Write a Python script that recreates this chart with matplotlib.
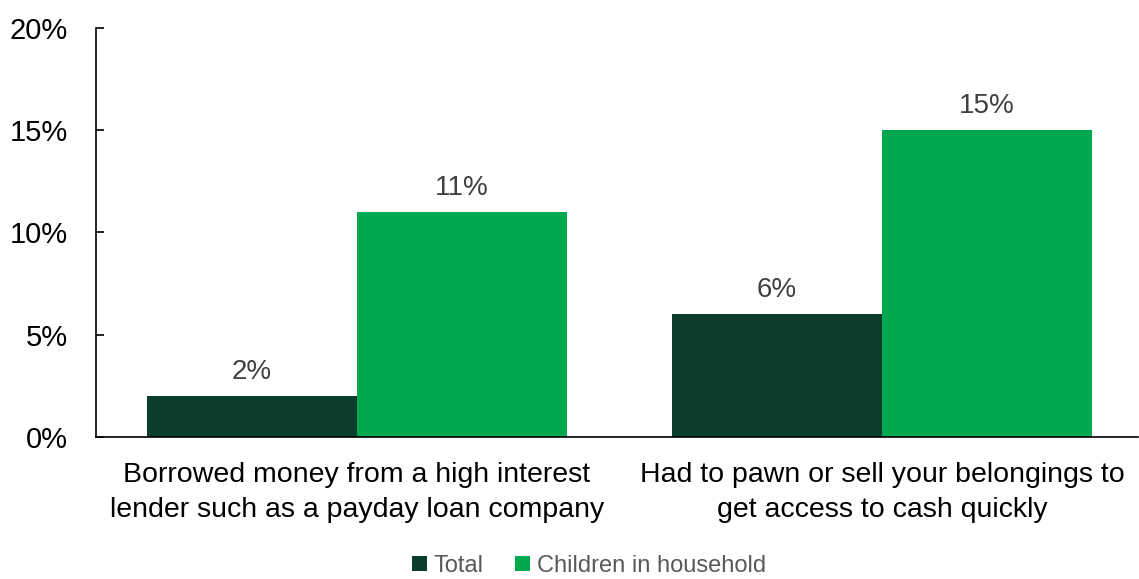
import matplotlib.pyplot as plt
import numpy as np

categories = ['Borrowed money from a high interest\nlender such as a payday loan company',
              'Had to pawn or sell your belongings to\nget access to cash quickly']
total = [2, 6]
children = [11, 15]
series_names = ['Total', 'Children in household']
colors = ['#0b3d2e', '#00a84f']

plt.rcParams['font.family'] = ['Liberation Sans', 'DejaVu Sans']

fig = plt.figure(figsize=(11.39, 5.79), dpi=100)
ax = fig.add_axes([0.0843, 0.245, 0.915, 0.707])

x = np.arange(len(categories))
w = 0.4
b1 = ax.bar(x - w / 2, total, width=w, color=colors[0], label=series_names[0])
b2 = ax.bar(x + w / 2, children, width=w, color=colors[1], label=series_names[1])

# Подписи значений над столбцами
for bars in (b1, b2):
    for bar in bars:
        h = bar.get_height()
        ax.text(bar.get_x() + bar.get_width() / 2, h + 0.55, f'{h:.0f}%',
                ha='center', va='bottom', fontsize=20, color='#404040')

ax.set_xlim(-0.497, 1.488)
ax.set_ylim(0, 20)
ax.set_yticks([0, 5, 10, 15, 20])
ax.set_yticklabels([f'{v}%' for v in [0, 5, 10, 15, 20]])
ax.set_xticks(x)
ax.set_xticklabels(categories, fontsize=20.5, linespacing=1.45)
ax.tick_params(axis='y', direction='in', length=6, labelsize=21, pad=20, width=1.2)
ax.tick_params(axis='x', length=0, pad=18)

for s in ['top', 'right']:
    ax.spines[s].set_visible(False)
ax.spines['left'].set_linewidth(1.2)
ax.spines['bottom'].set_linewidth(1.2)

leg = fig.legend(loc='lower center', bbox_to_anchor=(0.517, -0.033), ncol=2, frameon=False,
                 fontsize=17, handlelength=0.65, handleheight=0.65, handletextpad=0.3,
                 columnspacing=1.3)
for t in leg.get_texts():
    t.set_color('#595959')

fig.savefig('out.png', dpi=100)
